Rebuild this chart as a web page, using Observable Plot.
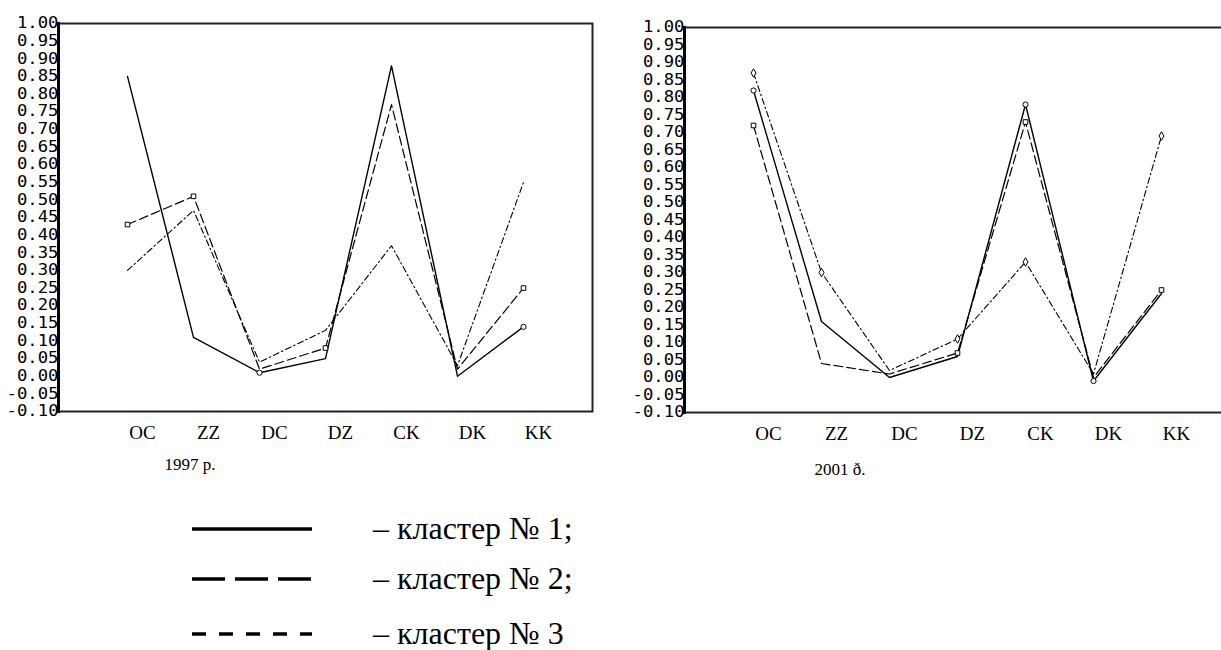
<!DOCTYPE html>
<html>
<head>
<meta charset="utf-8">
<script src="https://cdn.jsdelivr.net/npm/d3@7"></script>
<script src="https://cdn.jsdelivr.net/npm/@observablehq/plot@0.6"></script>
<style>
  html, body { margin: 0; padding: 0; background: #fff; overflow: hidden; }
  #root { position: relative; width: 1221px; height: 650px; overflow: hidden; background: #fff; }
  .chart { position: absolute; top: 0; }
  .cap { position: absolute; font-family: "Liberation Serif", serif; font-size: 17px; color: #000; white-space: nowrap; }
  #legend { position: absolute; left: 0; top: 480px; }
</style>
</head>
<body>
<div id="root"></div>
<script>
// ---- data ----
const categories = ["OC", "ZZ", "DC", "DZ", "CK", "DK", "KK"];
const yTickValues = [-0.10, -0.05, 0.00, 0.05, 0.10, 0.15, 0.20, 0.25, 0.30, 0.35, 0.40, 0.45,
                     0.50, 0.55, 0.60, 0.65, 0.70, 0.75, 0.80, 0.85, 0.90, 0.95, 1.00];

// 1997
const cluster1_1997 = [0.85, 0.11, 0.01, 0.05, 0.88, 0.00, 0.14];
const cluster2_1997 = [0.43, 0.51, 0.02, 0.08, 0.77, 0.02, 0.25];
const cluster3_1997 = [0.30, 0.47, 0.04, 0.13, 0.37, 0.03, 0.55];
// 2001
const cluster1_2001 = [0.82, 0.16, 0.00, 0.06, 0.78, -0.01, 0.24];
const cluster2_2001 = [0.72, 0.04, 0.01, 0.07, 0.73, 0.00, 0.25];
const cluster3_2001 = [0.87, 0.30, 0.02, 0.11, 0.33, 0.01, 0.69];

// points that carry a visible marker in the original
const markers1997 = [[2, "OC"], [2, "ZZ"], [2, "DZ"], [2, "KK"], [1, "KK"], [1, "DC"]];
const markers2001 = [[3, "OC"], [1, "OC"], [2, "OC"], [3, "ZZ"], [2, "DZ"], [3, "DZ"],
                     [1, "CK"], [2, "CK"], [3, "CK"], [1, "DK"], [3, "KK"], [2, "KK"]];

const clusterLabels = ["– кластер № 1;", "– кластер № 2;", "– кластер № 3"];
const captions = ["1997 р.", "2001 ð."];

// ---- styles ----
const lineStyle = {
  1: {strokeWidth: 1.4, strokeDasharray: null},
  2: {strokeWidth: 1.2, strokeDasharray: "9,4"},
  3: {strokeWidth: 1.1, strokeDasharray: "6,3,1.5,3"}
};
const symbolOf = {1: "circle", 2: "square", 3: "diamond"};

function buildChart(series, markers, cfg) {
  const rows = series.flatMap((vals, i) => vals.map((v, j) => ({cat: categories[j], v, cluster: i + 1})));
  const markRows = markers.map(([c, cat]) => rows.find(r => r.cluster === c && r.cat === cat));
  const lines = [1, 2, 3].map(c => Plot.line(rows.filter(r => r.cluster === c), {
    x: "cat", y: "v", stroke: "#000",
    strokeWidth: lineStyle[c].strokeWidth,
    strokeDasharray: lineStyle[c].strokeDasharray
  }));
  const svg = Plot.plot({
    width: cfg.width, height: cfg.height,
    marginLeft: cfg.marginLeft, marginRight: cfg.marginRight,
    marginTop: cfg.marginTop, marginBottom: cfg.marginBottom,
    style: {background: "transparent", color: "#000", overflow: "visible"},
    x: {type: "point", domain: categories, padding: 1, label: null},
    y: {domain: [-0.10, 1.00], label: null},
    marks: [
      ...lines,
      Plot.dot(markRows, {x: "cat", y: "v", symbol: d => symbolOf[d.cluster], r: 2.6,
        stroke: "#000", fill: "#fff", strokeWidth: 1}),
      Plot.frame({stroke: "#222", strokeWidth: 2}),
      Plot.frame({anchor: "left", stroke: "#000", strokeWidth: 3}),
      Plot.axisY({ticks: yTickValues, tickSize: 0, tickPadding: 0,
        tickFormat: d => d.toFixed(2), fontSize: 15, fontFamily: "DejaVu Sans Mono", label: null}),
      Plot.axisX({tickSize: 0, tickPadding: 14, dx: 15, fontSize: 19,
        fontFamily: "Liberation Serif", label: null})
    ]
  });
  svg.classList.add("chart");
  svg.style.left = cfg.left + "px";
  return svg;
}

const root = document.getElementById("root");

const left = buildChart([cluster1_1997, cluster2_1997, cluster3_1997], markers1997,
  {left: 0, width: 600, height: 460, marginLeft: 58, marginRight: 8, marginTop: 23, marginBottom: 49});
const right = buildChart([cluster1_2001, cluster2_2001, cluster3_2001], markers2001,
  {left: 610, width: 640, height: 460, marginLeft: 74, marginRight: 20, marginTop: 27, marginBottom: 48});
root.appendChild(left);
root.appendChild(right);

// widen the y tick labels slightly, like the original bitmap font
for (const svg of [left, right]) {
  svg.querySelectorAll('g[aria-label="y-axis tick label"] text').forEach(t => {
    const w = t.getComputedTextLength();
    t.setAttribute("textLength", (w * 1.15).toFixed(1));
    t.setAttribute("lengthAdjust", "spacingAndGlyphs");
  });
}

// captions under each chart
const capPos = [[190, 455], [840, 460]];
captions.forEach((c, i) => {
  const d = document.createElement("div");
  d.className = "cap";
  d.textContent = c;
  d.style.left = capPos[i][0] + "px";
  d.style.top = capPos[i][1] + "px";
  d.style.transform = "translateX(-50%)";
  root.appendChild(d);
});

// legend
const ns = "http://www.w3.org/2000/svg";
const leg = document.createElementNS(ns, "svg");
leg.setAttribute("id", "legend");
leg.setAttribute("width", 700);
leg.setAttribute("height", 170);
const legDash = [null, "33,10", "14,13"];
const legY = [49, 99, 154];
clusterLabels.forEach((lab, i) => {
  const ln = document.createElementNS(ns, "line");
  ln.setAttribute("x1", 192); ln.setAttribute("x2", 312);
  ln.setAttribute("y1", legY[i]); ln.setAttribute("y2", legY[i]);
  ln.setAttribute("stroke", "#000"); ln.setAttribute("stroke-width", 3.5);
  if (legDash[i]) ln.setAttribute("stroke-dasharray", legDash[i]);
  leg.appendChild(ln);
  const tx = document.createElementNS(ns, "text");
  tx.setAttribute("x", 373); tx.setAttribute("y", legY[i] + 10);
  tx.setAttribute("font-family", "Liberation Serif");
  tx.setAttribute("font-size", 32);
  tx.setAttribute("fill", "#000");
  tx.textContent = lab;
  leg.appendChild(tx);
});
root.appendChild(leg);
</script>
</body>
</html>
